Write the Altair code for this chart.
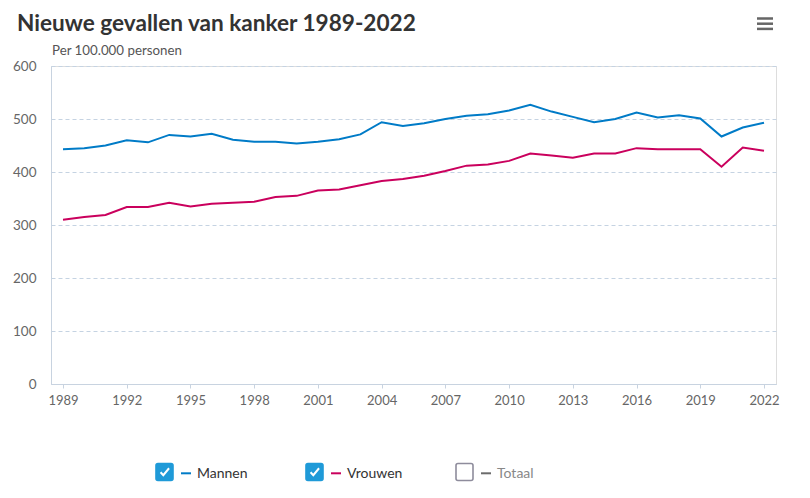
import altair as alt
import pandas as pd

# ---------------- data ----------------
years = [1989, 1990, 1991, 1992, 1993, 1994, 1995, 1996, 1997, 1998, 1999,
         2000, 2001, 2002, 2003, 2004, 2005, 2006, 2007, 2008, 2009, 2010,
         2011, 2012, 2013, 2014, 2015, 2016, 2017, 2018, 2019, 2020, 2021, 2022]
mannen = [443, 445, 450, 460, 456, 470, 467, 472, 461, 457, 457, 454, 457, 462,
          471, 494, 487, 492, 500, 506, 509, 516, 527, 514, 504, 494, 500, 512,
          503, 507, 501, 467, 484, 493]
vrouwen = [310, 315, 319, 334, 334, 342, 335, 340, 342, 344, 353, 355, 365, 367,
           375, 383, 387, 393, 402, 412, 414, 421, 435, 431, 427, 435, 435, 445,
           443, 443, 443, 410, 446, 440]
tick_years = [1989, 1992, 1995, 1998, 2001, 2004, 2007, 2010, 2013, 2016, 2019, 2022]
y_ticks = [0, 100, 200, 300, 400, 500, 600]

title_text = "Nieuwe gevallen van kanker 1989-2022"
subtitle_text = "Per 100.000 personen"

legend_names = ["Mannen", "Vrouwen", "Totaal"]
legend_checked = [True, True, False]

# ---------------- style ----------------
BLUE = "#007bc7"
PINK = "#ca005d"
GREY = "#6b6b6b"
BOX_BLUE = "#1f9ad8"
BOX_GREY = "#8e8c9c"
FONT = "Lato"
AXIS_COL = "#c8d3e0"

df = pd.DataFrame({
    "jaar": years * 2,
    "waarde": mannen + vrouwen,
    "serie": ["Mannen"] * len(years) + ["Vrouwen"] * len(years),
})

x_enc = alt.X("jaar:Q",
              scale=alt.Scale(domain=[years[0], years[-1]], nice=False, zero=False, padding=12),
              axis=alt.Axis(values=tick_years, format="d", title=None, grid=False,
                            domainColor=AXIS_COL, tickColor=AXIS_COL, tickSize=4,
                            labelPadding=6, labelColor="#666666", labelFontSize=13,
                            labelFont=FONT))
y_enc = alt.Y("waarde:Q",
              scale=alt.Scale(domain=[0, 600], nice=False),
              axis=alt.Axis(values=y_ticks, title=None, ticks=False, tickSize=0,
                            labelPadding=15, domainColor=AXIS_COL,
                            gridColor="#c5d3e2", gridDash=[4, 3], gridWidth=1,
                            labelColor="#666666", labelFontSize=13.5, labelFont=FONT))

lines = alt.Chart(df).mark_line(strokeWidth=2).encode(
    x=x_enc,
    y=y_enc,
    color=alt.Color("serie:N", scale=alt.Scale(domain=["Mannen", "Vrouwen"], range=[BLUE, PINK]),
                    legend=None),
)

# title & subtitle
title = alt.Chart(pd.DataFrame({"t": [title_text]})).mark_text(
    align="left", baseline="alphabetic", font=FONT, fontSize=22.6, fontWeight="bold",
    color="#333333").encode(x=alt.value(-34), y=alt.value(-35), text="t:N")
subtitle = alt.Chart(pd.DataFrame({"t": [subtitle_text]})).mark_text(
    align="left", baseline="alphabetic", font=FONT, fontSize=13.3,
    color="#555555").encode(x=alt.value(1), y=alt.value(-11), text="t:N")

# menu icon (decoration)
menu = alt.Chart(pd.DataFrame({"r": [0, 1, 2]})).transform_calculate(
    yy="-47.5 + 5.2*datum.r"
).mark_rule(strokeWidth=2.5, color="#666666", strokeCap="butt").encode(
    x=alt.value(706), x2=alt.value(722), y=alt.Y("yy:Q", scale=None))

# custom legend
leg = pd.DataFrame({
    "name": legend_names,
    "idx": [0, 1, 2],
    "checked": legend_checked,
    "col": [BLUE, PINK, GREY],
    "tcol": ["#333333", "#333333", "#888888"],
    "fill": [BOX_BLUE if c else "#ffffff" for c in legend_checked],
    "stroke": [BOX_BLUE if c else BOX_GREY for c in legend_checked],
})
leg_base = alt.Chart(leg).transform_calculate(
    bx="105 + 150*datum.idx",
    bx2="122 + 150*datum.idx",
    cx="113.8 + 150*datum.idx",
    dx="130 + 150*datum.idx",
    dx2="140 + 150*datum.idx",
    lx="146 + 150*datum.idx",
)
boxes = leg_base.mark_rect(cornerRadius=2, strokeWidth=1.6).encode(
    x=alt.X("bx:Q", scale=None), x2="bx2:Q",
    y=alt.value(397.5), y2=alt.value(414.5),
    fill=alt.Fill("fill:N", scale=None),
    stroke=alt.Stroke("stroke:N", scale=None),
)
checks = leg_base.transform_filter("datum.checked").mark_point(
    shape="M-0.85,0.05 L-0.3,0.65 L0.85,-0.75", filled=False, stroke="white",
    strokeWidth=2, size=100, opacity=1).encode(
    x=alt.X("cx:Q", scale=None), y=alt.value(406),
)
dashes = leg_base.mark_rule(strokeWidth=2).encode(
    x=alt.X("dx:Q", scale=None), x2="dx2:Q", y=alt.value(407.3),
    color=alt.Color("col:N", scale=None),
)
labels = leg_base.mark_text(align="left", baseline="alphabetic", font=FONT,
                            fontSize=14).encode(
    x=alt.X("lx:Q", scale=None), y=alt.value(412.3), text="name:N",
    color=alt.Color("tcol:N", scale=None),
)

chart = alt.layer(lines, title, subtitle, menu, boxes, checks, dashes, labels).properties(
    width=725, height=318,
    autosize=alt.AutoSizeParams(type="none"),
    padding={"left": 43, "top": 58, "right": 20, "bottom": 100},
).configure_view(stroke=None).configure(font=FONT)

chart.save("out.html", embed_options={"renderer": "svg", "actions": False})
